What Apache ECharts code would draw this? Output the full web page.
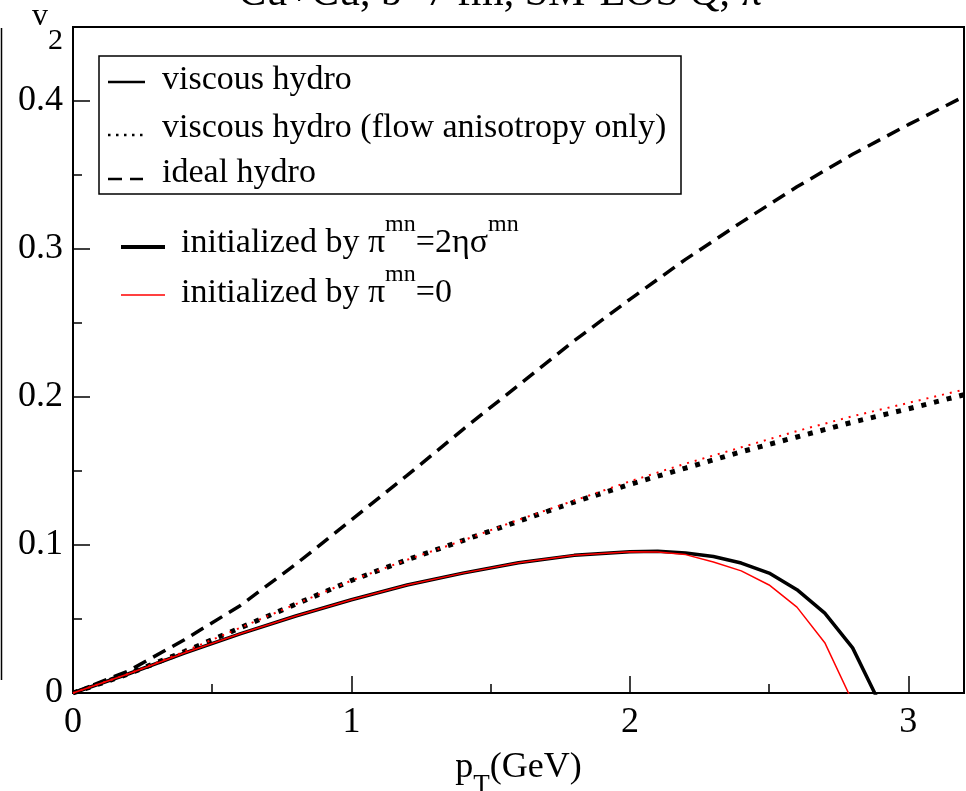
<!DOCTYPE html>
<html>
<head>
<meta charset="utf-8">
<script src="https://cdn.jsdelivr.net/npm/echarts@6/dist/echarts.min.js"></script>
<style>
  html, body { margin: 0; padding: 0; background: #fff; }
  #chart { width: 966px; height: 791px; }
</style>
</head>
<body>
<div id="chart"></div>
<script>
// pT grid (GeV) for the smooth curves
const ptCoarse = [0, 0.2, 0.4, 0.6, 0.8, 1.0, 1.2, 1.4, 1.6, 1.8, 2.0, 2.2, 2.4, 2.6, 2.8, 3.0, 3.2];

// ideal hydro
const v2Ideal = [0, 0.015, 0.036, 0.059, 0.087, 0.117, 0.147, 0.178, 0.208, 0.238, 0.266, 0.293, 0.318, 0.342, 0.364, 0.384, 0.403];

// viscous hydro, flow anisotropy only
const v2FlowOnlySigma = [0, 0.013, 0.028, 0.044, 0.060, 0.076, 0.090, 0.103, 0.116, 0.129, 0.141, 0.152, 0.163, 0.173, 0.183, 0.192, 0.2015];
const v2FlowOnlyZero  = [0, 0.013, 0.028, 0.044, 0.060, 0.076, 0.090, 0.103, 0.117, 0.130, 0.143, 0.155, 0.166, 0.177, 0.187, 0.196, 0.205];

// viscous hydro, full v2
const ptViscSigma = [0, 0.2, 0.4, 0.6, 0.8, 1.0, 1.2, 1.4, 1.6, 1.8, 2.0, 2.1, 2.2, 2.3, 2.4, 2.5, 2.6, 2.7, 2.8, 2.9];
const v2ViscSigma = [0, 0.013, 0.027, 0.040, 0.052, 0.063, 0.073, 0.081, 0.088, 0.093, 0.0955, 0.0957, 0.0946, 0.0922, 0.0878, 0.081, 0.0698, 0.054, 0.0305, -0.008];
const ptViscZero  = [0, 0.2, 0.4, 0.6, 0.8, 1.0, 1.2, 1.4, 1.6, 1.8, 2.0, 2.1, 2.2, 2.3, 2.4, 2.5, 2.6, 2.7, 2.8];
const v2ViscZero  = [0, 0.013, 0.027, 0.040, 0.052, 0.063, 0.073, 0.081, 0.088, 0.093, 0.0955, 0.0952, 0.0935, 0.0885, 0.0825, 0.073, 0.058, 0.034, -0.006];

// axis ranges and tick spacing
const xMajorStep = 1, xMax = 3.2;
const yMajorStep = 0.1, yMax = 0.45;

// labels
const titleText = 'Cu+Cu, b=7 fm, SM-EOS Q, π';
const styleLegendLabels = ['viscous hydro', 'viscous hydro (flow anisotropy only)', 'ideal hydro'];
const initLegendLabels = ['{a|initialized by π}{s|mn}{a|=2ησ}{s|mn}', '{a|initialized by π}{s|mn}{a|=0}'];

const FONT = '"Liberation Serif", "Times New Roman", serif';

function pairs(xs, ys) { return xs.map((x, i) => [x, ys[i]]); }

const chart = echarts.init(document.getElementById('chart'), null, { renderer: 'canvas' });

// superscripts: the tall main token sets the line box, the small token sits at its top
const supRich = {
  a: { fontFamily: FONT, fontSize: 34, lineHeight: 62, color: '#000' },
  s: { fontFamily: FONT, fontSize: 24, lineHeight: 24, verticalAlign: 'top', color: '#000' }
};

const axisLineStyle = { color: '#000', width: 2 };
const tickStyle = { color: '#000', width: 1.5 };

const option = {
  animation: false,
  backgroundColor: '#fff',
  grid: {
    left: 73, right: 2, top: 27, bottom: 98,
    containLabel: false, outerBoundsMode: 'none',
    show: true, borderColor: '#000', borderWidth: 2, backgroundColor: 'transparent'
  },
  xAxis: {
    type: 'value', min: 0, max: xMax, interval: xMajorStep, position: 'bottom',
    axisLine: { show: true, onZero: false, lineStyle: axisLineStyle },
    axisTick: { show: true, inside: true, length: 17, lineStyle: tickStyle },
    minorTick: { show: true, splitNumber: 2, length: 9, lineStyle: tickStyle },
    axisLabel: { show: true, showMaxLabel: false, margin: 12, color: '#000', fontFamily: FONT, fontSize: 36 },
    splitLine: { show: false },
    name: '{a|p}{t|T}{a|(GeV)}',
    nameLocation: 'middle', nameGap: 57,
    nameTextStyle: {
      verticalAlign: 'top',
      rich: {
        a: { fontFamily: FONT, fontSize: 36, lineHeight: 36, verticalAlign: 'top', color: '#000' },
        t: { fontFamily: FONT, fontSize: 27, lineHeight: 72, color: '#000' }
      }
    }
  },
  yAxis: {
    type: 'value', min: 0, max: yMax, interval: yMajorStep, position: 'left',
    axisLine: { show: true, onZero: false, lineStyle: axisLineStyle },
    axisTick: { show: true, inside: true, length: 17, lineStyle: tickStyle },
    minorTick: { show: true, splitNumber: 2, length: 9, lineStyle: tickStyle },
    axisLabel: { show: true, showMaxLabel: false, margin: 10, color: '#000', fontFamily: FONT, fontSize: 36,
      formatter: v => (v === 0 ? '0' : v.toFixed(1)) },
    splitLine: { show: false },
    name: '{v|v}{t|2}',
    nameLocation: 'end', nameGap: 26,
    nameTextStyle: {
      align: 'right', verticalAlign: 'top', padding: [0, 10, 0, 0],
      rich: {
        v: { fontFamily: FONT, fontSize: 32, lineHeight: 32, verticalAlign: 'top', color: '#000' },
        t: { fontFamily: FONT, fontSize: 30, lineHeight: 81, color: '#000' }
      }
    }
  },
  series: [
    { name: 'ideal hydro', type: 'line', data: pairs(ptCoarse, v2Ideal), symbol: 'none',
      lineStyle: { color: '#000', width: 3.5, type: [14, 8] } },
    { name: 'flow only, sigma init', type: 'line', data: pairs(ptCoarse, v2FlowOnlySigma), symbol: 'none',
      lineStyle: { color: '#000', width: 5, type: [5, 8] } },
    { name: 'viscous, sigma init', type: 'line', data: pairs(ptViscSigma, v2ViscSigma), symbol: 'none',
      lineStyle: { color: '#000', width: 3.5 } },
    { name: 'flow only, zero init', type: 'line', data: pairs(ptCoarse, v2FlowOnlyZero), symbol: 'none',
      lineStyle: { color: '#ff0000', width: 2, type: [2, 6] } },
    { name: 'viscous, zero init', type: 'line', data: pairs(ptViscZero, v2ViscZero), symbol: 'none',
      lineStyle: { color: '#ff0000', width: 1.5 } }
  ],
  graphic: [
    // title, mostly above the canvas edge
    { type: 'text', x: 500, y: 15, style: { text: titleText, fontFamily: FONT, fontSize: 42, fill: '#000', align: 'center', verticalAlign: 'bottom' } },
    // edge of the neighbouring frame at the far left
    { type: 'line', shape: { x1: 1.5, y1: 28, x2: 1.5, y2: 680 }, style: { stroke: '#000', lineWidth: 1.5 } },
    // line-style legend box
    { type: 'rect', shape: { x: 99, y: 56, width: 582, height: 138 }, style: { fill: '#fff', stroke: '#000', lineWidth: 1.5 }, z: 10 },
    { type: 'line', shape: { x1: 108, y1: 82, x2: 145, y2: 82 }, style: { stroke: '#000', lineWidth: 2.5 }, z: 11 },
    { type: 'line', shape: { x1: 108, y1: 135, x2: 145, y2: 135 }, style: { stroke: '#000', lineWidth: 2.5, lineDash: [2.5, 5.5] }, z: 11 },
    { type: 'line', shape: { x1: 108, y1: 179, x2: 143, y2: 179 }, style: { stroke: '#000', lineWidth: 2.5, lineDash: [14, 8] }, z: 11 },
    { type: 'text', x: 162, y: 80.5, style: { text: styleLegendLabels[0], fontFamily: FONT, fontSize: 34, fill: '#000', verticalAlign: 'middle' }, z: 11 },
    { type: 'text', x: 162, y: 128, style: { text: styleLegendLabels[1], fontFamily: FONT, fontSize: 34, fill: '#000', verticalAlign: 'middle' }, z: 11 },
    { type: 'text', x: 162, y: 173.5, style: { text: styleLegendLabels[2], fontFamily: FONT, fontSize: 34, fill: '#000', verticalAlign: 'middle' }, z: 11 },
    // initial-condition legend
    { type: 'line', shape: { x1: 121, y1: 247, x2: 165, y2: 247 }, style: { stroke: '#000', lineWidth: 4 }, z: 11 },
    { type: 'line', shape: { x1: 121, y1: 295, x2: 165, y2: 295 }, style: { stroke: '#ff0000', lineWidth: 1.5 }, z: 11 },
    { type: 'text', x: 181, y: 212.5, style: { text: initLegendLabels[0], fontFamily: FONT, fontSize: 34, fill: '#000', verticalAlign: 'top', rich: supRich }, z: 11 },
    { type: 'text', x: 181, y: 262.5, style: { text: initLegendLabels[1], fontFamily: FONT, fontSize: 34, fill: '#000', verticalAlign: 'top', rich: supRich }, z: 11 }
  ]
};

chart.setOption(option);
</script>
</body>
</html>
